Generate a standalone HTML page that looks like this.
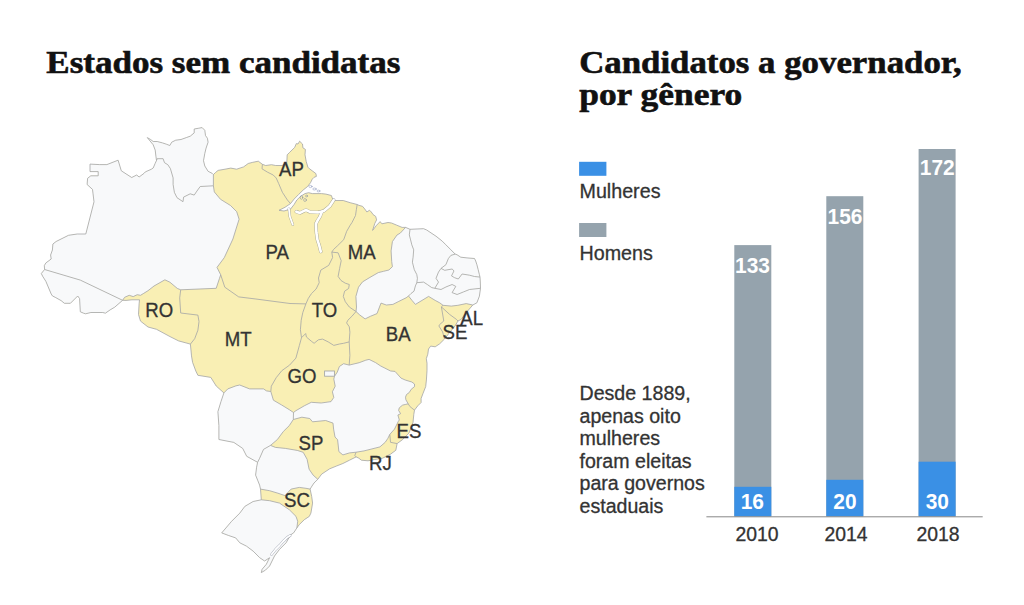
<!DOCTYPE html>
<html><head><meta charset="utf-8"><style>
html,body{margin:0;padding:0;background:#fff;width:1024px;height:605px;overflow:hidden}
</style></head><body>
<svg style="position:absolute;left:0;top:0" width="1024" height="605" viewBox="0 0 1024 605">
<g font-family="Liberation Serif" font-weight="bold" font-size="31.5" fill="#111" stroke="#111" stroke-width="0.6">
<text transform="translate(46.3,73.2) scale(1.112,1)">Estados sem candidatas</text>
<text transform="translate(579.2,73.1) scale(1.105,1)">Candidatos a governador,</text>
<text transform="translate(579.2,105) scale(1.125,1)">por gênero</text>
</g>
<polygon points="44.6,269.5 44.3,265.6 45.9,262.9 51.2,259.0 50.6,255.0 52.4,250.0 52.9,244.0 56.1,241.5 68.5,235.3 77.2,234.0 85.8,234.0 94.0,201.8 92.5,189.4 87.1,184.5 87.6,178.3 90.8,175.8 98.2,175.8 98.2,171.6 90.0,171.6 90.0,164.1 99.5,164.6 106.9,164.6 118.1,160.2 121.3,170.8 131.7,177.5 136.7,175.0 139.1,177.0 144.1,173.3 145.3,171.9 151.2,169.3 153.2,168.0 155.2,163.3 156.5,160.5 155.9,156.1 155.2,150.1 153.2,144.8 147.3,137.6 150.6,139.5 153.2,141.5 157.2,141.5 162.5,142.9 166.4,144.2 169.8,145.5 171.7,142.2 175.7,140.2 181.0,139.5 186.3,137.6 190.2,136.2 194.2,132.9 194.2,129.0 198.2,128.3 202.1,127.6 204.8,130.3 205.5,135.6 207.4,138.2 208.1,142.2 206.1,148.1 204.8,153.4 203.5,160.7 204.8,166.0 208.1,171.3 212.1,173.3 213.4,174.6 215.5,172.5 218.1,170.4 225.0,169.2 230.8,168.1 236.6,169.2 243.6,166.9 248.2,163.5 252.8,162.3 258.3,161.2 262.4,164.3 265.7,165.5 271.5,164.7 275.7,165.5 282.3,165.5 286.8,162.6 287.2,154.8 289.7,152.3 294.7,147.4 296.3,143.6 298.0,144.0 299.6,141.2 302.5,144.0 302.9,147.8 305.4,149.4 305.0,154.8 306.2,161.4 307.9,167.2 309.5,168.8 312.9,171.3 315.9,173.6 316.4,176.4 314.1,177.3 312.3,179.1 310.5,182.7 307.7,186.4 303.2,190.0 298.6,194.5 294.1,199.1 290.5,203.6 285.0,207.3 279.0,210.3 284.0,211.0 290.5,209.1 294.1,204.5 296.8,200.0 300.5,196.4 305.0,193.6 308.6,192.7 312.3,193.6 321.4,193.6 325.9,194.1 331.4,195.5 332.3,198.2 333.7,200.0 335.3,200.5 343.2,200.5 350.2,202.7 357.2,204.5 359.0,205.4 362.5,206.3 364.7,208.9 366.9,212.0 369.5,210.2 371.3,212.0 373.1,214.6 375.7,216.4 376.6,219.9 374.8,223.4 372.6,230.4 376.6,225.2 380.1,221.6 381.9,223.8 388.0,222.5 391.5,223.0 396.8,225.2 402.1,227.4 405.6,227.4 410.0,229.3 423.6,228.7 426.7,230.0 436.0,236.2 442.2,241.1 445.9,244.8 450.9,249.8 455.2,254.1 457.1,254.8 460.8,257.2 467.0,257.9 474.5,258.5 475.7,261.0 476.9,264.7 478.2,269.7 479.4,274.6 480.0,277.1 480.3,282.0 480.5,288.3 479.4,296.2 476.9,302.8 472.8,305.0 466.2,312.7 461.2,319.3 458.0,321.0 455.0,326.0 450.1,331.9 444.5,339.0 439.7,343.8 435.2,346.8 430.7,346.1 428.5,349.0 427.8,354.2 426.3,358.7 427.0,363.2 427.0,370.6 426.4,380.0 425.7,386.6 423.1,393.2 421.1,398.5 421.1,402.5 417.8,405.8 414.5,410.1 413.8,414.4 413.0,422.5 409.0,433.1 402.4,439.7 397.1,443.6 395.8,450.3 390.5,454.2 382.6,458.2 374.6,459.5 368.0,460.8 361.4,460.2 358.8,458.2 356.1,456.9 349.5,460.2 342.9,463.5 336.3,466.1 329.7,468.8 321.7,474.1 317.8,479.3 314.0,483.0 312.0,486.0 310.1,489.1 311.7,496.5 312.6,503.1 310.9,513.1 309.3,516.4 304.3,519.7 299.3,524.6 296.9,527.9 293.6,532.9 291.1,534.5 289.4,537.0 286.1,542.8 279.5,549.4 274.5,556.0 269.6,566.0 265.5,570.1 261.3,572.6 262.1,569.3 266.3,564.3 269.6,557.7 264.6,561.0 259.7,557.7 253.1,551.1 246.4,546.1 239.8,542.8 235.7,537.9 228.3,535.4 221.7,532.9 231.6,521.3 239.8,513.1 244.8,506.4 253.1,501.5 261.3,499.8 260.5,489.1 259.6,485.1 257.6,480.1 255.6,475.1 256.6,467.2 257.6,462.3 246.7,456.3 242.7,448.4 233.8,442.4 218.9,439.5 218.9,425.6 217.9,411.7 220.9,401.8 223.9,392.9 216.2,386.0 210.8,377.4 197.9,375.3 195.8,371.0 192.6,362.4 191.5,355.9 190.4,344.1 178.6,340.9 170.0,336.6 156.5,329.3 148.0,327.0 140.5,321.1 138.5,314.5 139.1,303.9 139.5,299.8 132.0,299.8 126.0,300.4 122.6,300.3 114.7,307.2 110.1,309.9 105.4,313.2 102.8,312.5 90.9,312.5 85.6,313.8 83.6,313.2 80.3,311.8 79.6,298.6 77.7,296.0 70.4,303.3 64.4,303.3 61.1,300.6 55.2,297.3 52.5,296.0 51.2,294.0 45.9,281.4 42.6,276.2 41.3,273.5 44.6,269.5" fill="#f9efb4"/>
<polygon points="156.5,160.5 157.2,158.7 163.1,158.7 164.5,162.7 167.8,164.7 170.4,168.6 173.1,177.9 173.1,184.5 174.4,192.4 177.0,197.7 183.0,201.7 183.6,197.1 190.2,193.8 194.2,195.1 196.9,191.1 200.2,186.5 213.4,185.8 214.3,191.9 220.5,199.3 230.5,205.5 236.7,211.7 239.1,219.2 232.9,239.0 224.3,257.6 217.0,267.4 220.7,274.8 219.4,278.6 216.2,288.3 180.7,289.8 177.3,288.4 169.9,282.2 164.9,279.8 154.0,286.0 148.0,290.7 143.8,293.3 140.5,295.3 137.2,294.7 133.2,296.6 129.2,295.3 124.6,297.3 122.6,300.3 80.3,280.1 44.6,269.5 44.3,265.6 45.9,262.9 51.2,259.0 50.6,255.0 52.4,250.0 52.9,244.0 56.1,241.5 68.5,235.3 77.2,234.0 85.8,234.0 94.0,201.8 92.5,189.4 87.1,184.5 87.6,178.3 90.8,175.8 98.2,175.8 98.2,171.6 90.0,171.6 90.0,164.1 99.5,164.6 106.9,164.6 118.1,160.2 121.3,170.8 131.7,177.5 136.7,175.0 139.1,177.0 144.1,173.3 145.3,171.9 151.2,169.3 153.2,168.0 155.2,163.3 156.5,160.5" fill="#f8f9fa"/>
<polygon points="156.5,160.5 155.9,156.1 155.2,150.1 153.2,144.8 147.3,137.6 150.6,139.5 153.2,141.5 157.2,141.5 162.5,142.9 166.4,144.2 169.8,145.5 171.7,142.2 175.7,140.2 181.0,139.5 186.3,137.6 190.2,136.2 194.2,132.9 194.2,129.0 198.2,128.3 202.1,127.6 204.8,130.3 205.5,135.6 207.4,138.2 208.1,142.2 206.1,148.1 204.8,153.4 203.5,160.7 204.8,166.0 208.1,171.3 212.1,173.3 213.4,174.6 213.4,185.8 200.2,186.5 196.9,191.1 194.2,195.1 190.2,193.8 183.6,197.1 183.0,201.7 177.0,197.7 174.4,192.4 173.1,184.5 173.1,177.9 170.4,168.6 167.8,164.7 164.5,162.7 163.1,158.7 157.2,158.7 156.5,160.5" fill="#f8f9fa"/>
<polygon points="122.6,300.3 114.7,307.2 110.1,309.9 105.4,313.2 102.8,312.5 90.9,312.5 85.6,313.8 83.6,313.2 80.3,311.8 79.6,298.6 77.7,296.0 70.4,303.3 64.4,303.3 61.1,300.6 55.2,297.3 52.5,296.0 51.2,294.0 45.9,281.4 42.6,276.2 41.3,273.5 44.6,269.5 80.3,280.1 122.6,300.3" fill="#f8f9fa"/>
<polygon points="405.6,227.4 410.0,229.3 409.3,234.9 410.6,239.9 411.8,244.8 413.7,249.8 413.1,257.2 412.4,262.2 414.3,269.7 416.8,274.6 417.4,278.3 416.8,282.7 415.4,285.9 414.0,291.2 411.0,293.5 408.5,296.0 406.1,297.8 398.2,301.7 392.9,304.4 386.3,305.0 381.0,303.1 377.0,313.6 370.4,316.3 365.1,318.9 359.8,315.0 356.0,311.5 356.5,307.0 355.9,296.4 358.5,287.2 362.5,281.9 369.1,277.9 378.3,272.6 383.6,271.3 388.9,270.0 392.4,266.7 391.7,261.4 391.1,250.9 392.4,241.6 397.0,235.0 400.3,233.1 405.6,227.4" fill="#f8f9fa"/>
<polygon points="410.0,229.3 423.6,228.7 426.7,230.0 436.0,236.2 442.2,241.1 445.9,244.8 450.9,249.8 455.2,254.1 450.9,255.4 448.4,258.5 445.9,264.7 441.0,268.4 438.5,272.1 436.0,278.3 438.5,282.1 434.8,288.3 431.7,287.6 427.3,284.5 423.6,282.1 416.8,282.7 417.4,278.3 416.8,274.6 414.3,269.7 412.4,262.2 413.1,257.2 413.7,249.8 411.8,244.8 410.6,239.9 409.3,234.9 410.0,229.3" fill="#f8f9fa"/>
<polygon points="455.2,254.1 457.1,254.8 460.8,257.2 467.0,257.9 474.5,258.5 475.7,261.0 476.9,264.7 478.2,269.7 479.4,274.6 480.0,277.1 474.5,276.5 469.5,275.2 462.1,274.0 458.3,279.0 454.6,277.7 451.5,275.9 454.0,270.9 452.1,269.0 444.7,270.3 441.0,268.4 445.9,264.7 448.4,258.5 450.9,255.4 455.2,254.1" fill="#f8f9fa"/>
<polygon points="441.0,268.4 444.7,270.3 452.1,269.0 454.0,270.9 451.5,275.9 454.6,277.7 458.3,279.0 462.1,274.0 469.5,275.2 474.5,276.5 480.0,277.1 480.3,282.0 480.5,288.3 469.5,289.5 463.3,292.0 457.1,294.5 452.1,292.6 455.8,286.4 452.1,284.5 445.9,287.0 441.0,289.5 434.8,288.3 438.5,282.1 436.0,278.3 438.5,272.1 441.0,268.4" fill="#f8f9fa"/>
<polygon points="416.8,282.7 423.6,282.1 427.3,284.5 431.7,287.6 434.8,288.3 441.0,289.5 445.9,287.0 452.1,284.5 455.8,286.4 452.1,292.6 457.1,294.5 463.3,292.0 469.5,289.5 480.5,288.3 479.4,296.2 476.9,302.8 472.8,305.0 466.2,303.6 457.9,305.3 451.3,306.1 443.0,305.3 439.7,302.8 435.2,300.4 428.6,296.4 422.0,300.4 415.4,304.4 412.0,300.4 408.5,296.0 411.0,293.5 414.0,291.2 415.4,285.9 416.8,282.7" fill="#f8f9fa"/>
<polygon points="270.8,391.5 273.4,400.2 281.8,405.1 289.3,409.7 293.5,412.5 293.3,419.5 289.3,425.6 283.3,431.5 277.4,439.5 270.5,445.4 263.5,449.4 259.6,458.3 257.6,462.3 246.7,456.3 242.7,448.4 233.8,442.4 218.9,439.5 218.9,425.6 217.9,411.7 220.9,401.8 223.9,392.9 227.8,388.9 235.8,385.9 239.7,385.0 249.6,388.9 263.5,388.9 266.5,390.9 270.8,391.5" fill="#f8f9fa"/>
<polygon points="349.2,365.1 359.2,362.7 365.8,360.2 369.1,359.4 375.7,362.7 380.7,366.0 390.6,371.0 395.0,371.4 401.0,378.1 405.2,380.0 411.8,382.0 414.5,384.0 414.5,386.6 411.2,389.3 409.2,392.6 406.5,394.5 405.5,397.2 405.9,399.8 408.2,403.8 405.2,404.5 402.6,405.1 399.3,407.8 398.6,410.4 400.6,413.7 397.9,415.0 399.3,420.0 398.4,421.2 394.5,429.1 389.8,434.4 387.9,438.3 385.2,442.3 379.9,446.9 372.0,448.9 364.0,450.9 356.1,452.2 349.5,452.9 342.9,454.9 338.9,451.6 337.6,439.7 335.0,437.0 333.6,429.1 333.0,423.1 325.7,420.5 312.5,421.8 309.8,418.5 301.9,417.2 293.3,419.5 293.5,412.5 295.9,410.7 304.3,405.8 311.3,402.3 321.2,403.0 331.0,401.6 333.8,397.4 332.4,391.8 335.2,386.2 333.8,379.1 334.5,376.3 337.3,372.1 339.4,366.5 343.6,363.7 349.2,365.1" fill="#f8f9fa"/>
<polygon points="270.5,445.4 275.4,447.4 285.3,448.4 297.2,450.4 303.2,452.3 307.1,459.3 309.1,469.2 313.1,475.1 317.8,479.3 314.0,483.0 312.0,486.0 310.1,489.1 306.0,488.3 299.3,487.4 291.1,489.1 288.6,491.6 285.3,495.7 277.9,493.2 269.6,490.7 260.5,489.1 259.6,485.1 257.6,480.1 255.6,475.1 256.6,467.2 257.6,462.3 259.6,458.3 263.5,449.4 270.5,445.4" fill="#f8f9fa"/>
<polygon points="296.9,527.9 293.6,532.9 291.1,534.5 289.4,537.0 286.1,542.8 279.5,549.4 274.5,556.0 269.6,566.0 265.5,570.1 261.3,572.6 262.1,569.3 266.3,564.3 269.6,557.7 264.6,561.0 259.7,557.7 253.1,551.1 246.4,546.1 239.8,542.8 235.7,537.9 228.3,535.4 221.7,532.9 231.6,521.3 239.8,513.1 244.8,506.4 253.1,501.5 261.3,499.8 269.6,500.7 279.5,503.1 289.4,509.8 296.0,516.4 297.7,521.3 296.9,527.9" fill="#f8f9fa"/>
<path d="M156.5,160.5 L157.2,158.7 L163.1,158.7 L164.5,162.7 L167.8,164.7 L170.4,168.6 L173.1,177.9 L173.1,184.5 L174.4,192.4 L177.0,197.7 L183.0,201.7 L183.6,197.1 L190.2,193.8 L194.2,195.1 L196.9,191.1 L200.2,186.5 L213.4,185.8 M213.4,174.6 L213.4,185.8 M213.4,185.8 L214.3,191.9 L220.5,199.3 L230.5,205.5 L236.7,211.7 L239.1,219.2 L232.9,239.0 L224.3,257.6 L217.0,267.4 L220.7,274.8 M220.7,274.8 L219.4,278.6 L216.2,288.3 L180.7,289.8 M180.7,289.8 L177.3,288.4 L169.9,282.2 L164.9,279.8 L154.0,286.0 L148.0,290.7 L143.8,293.3 L140.5,295.3 L137.2,294.7 L133.2,296.6 L129.2,295.3 L124.6,297.3 L122.6,300.3 M44.6,269.5 L80.3,280.1 L122.6,300.3 M180.7,289.8 L179.7,297.9 L180.7,313.0 L197.9,315.1 L199.0,321.6 L197.9,330.2 L194.7,338.7 L190.4,344.1 M220.7,274.8 L224.8,287.2 L238.7,296.9 L255.9,299.0 L280.0,302.2 L290.0,303.5 L305.9,303.9 M305.9,303.9 L308.3,298.4 L311.4,293.7 L316.1,289.0 L319.2,282.7 L318.5,278.0 L320.8,270.1 L328.7,265.4 L332.6,257.6 L331.8,252.1 M357.2,204.5 L356.4,209.3 L355.5,215.5 L352.0,222.5 L350.2,225.2 L346.7,231.3 L343.7,239.7 L337.7,245.6 L333.5,249.5 L331.8,252.1 M262.4,164.3 L262.0,168.8 L267.4,172.1 L273.2,175.0 L276.2,178.0 L278.7,183.6 L282.4,192.3 L287.4,200.0 L290.5,203.6 M331.8,252.1 L338.1,252.8 L341.2,260.7 L339.6,268.5 L338.1,276.4 L341.0,280.5 L345.3,283.2 L349.3,284.5 L348.6,288.5 L344.6,291.2 L343.3,296.4 L345.3,301.7 L349.3,307.0 L356.0,311.5 M405.6,227.4 L400.3,233.1 L397.0,235.0 L392.4,241.6 L391.1,250.9 L391.7,261.4 L392.4,266.7 L388.9,270.0 L383.6,271.3 L378.3,272.6 L369.1,277.9 L362.5,281.9 L358.5,287.2 L355.9,296.4 L356.5,307.0 L356.0,311.5 M356.0,311.5 L359.8,315.0 L365.1,318.9 L370.4,316.3 L377.0,313.6 L381.0,303.1 L386.3,305.0 L392.9,304.4 L398.2,301.7 L406.1,297.8 L408.5,296.0 M356.0,311.5 L351.9,316.3 L347.9,320.2 L346.6,322.9 L349.3,326.8 L349.9,332.1 L349.2,341.9 M410.0,229.3 L409.3,234.9 L410.6,239.9 L411.8,244.8 L413.7,249.8 L413.1,257.2 L412.4,262.2 L414.3,269.7 L416.8,274.6 L417.4,278.3 L416.8,282.7 M416.8,282.7 L415.4,285.9 L414.0,291.2 L411.0,293.5 L408.5,296.0 M408.5,296.0 L412.0,300.4 L415.4,304.4 L422.0,300.4 L428.6,296.4 L435.2,300.4 L439.7,302.8 L443.0,305.3 M443.0,305.3 L451.3,306.1 L457.9,305.3 L466.2,303.6 L472.8,305.0 M443.0,305.3 L441.4,306.9 M441.4,306.9 L449.6,314.4 L456.3,319.3 L458.0,321.0 M441.4,306.9 L443.8,321.0 L439.7,324.5 L438.9,326.0 L442.6,331.9 L444.5,339.0 M455.2,254.1 L450.9,255.4 L448.4,258.5 L445.9,264.7 L441.0,268.4 M441.0,268.4 L444.7,270.3 L452.1,269.0 L454.0,270.9 L451.5,275.9 L454.6,277.7 L458.3,279.0 L462.1,274.0 L469.5,275.2 L474.5,276.5 L480.0,277.1 M441.0,268.4 L438.5,272.1 L436.0,278.3 L438.5,282.1 L434.8,288.3 M416.8,282.7 L423.6,282.1 L427.3,284.5 L431.7,287.6 L434.8,288.3 M434.8,288.3 L441.0,289.5 L445.9,287.0 L452.1,284.5 L455.8,286.4 L452.1,292.6 L457.1,294.5 L463.3,292.0 L469.5,289.5 L480.5,288.3 M305.9,303.9 L302.8,312.5 L301.2,320.3 L300.4,329.8 L301.5,337.7 M301.5,337.7 L299.4,345.4 L295.9,358.1 L289.6,365.1 L281.8,370.7 L276.2,377.7 L271.3,386.2 L270.8,391.5 M270.8,391.5 L266.5,390.9 L263.5,388.9 L249.6,388.9 L239.7,385.0 L235.8,385.9 L227.8,388.9 L223.9,392.9 M301.5,337.7 L305.7,333.5 L306.4,337.0 L311.3,341.2 L314.1,343.3 L318.4,339.8 L322.6,339.1 L328.2,341.9 L333.8,345.4 L339.4,344.0 L343.6,343.3 L349.2,341.9 M349.2,341.9 L349.9,355.3 L349.2,365.1 M349.2,365.1 L359.2,362.7 L365.8,360.2 L369.1,359.4 L375.7,362.7 L380.7,366.0 L390.6,371.0 L395.0,371.4 L401.0,378.1 L405.2,380.0 L411.8,382.0 L414.5,384.0 L414.5,386.6 L411.2,389.3 L409.2,392.6 L406.5,394.5 L405.5,397.2 L405.9,399.8 L408.2,403.8 M408.2,403.8 L409.8,406.4 L413.1,409.1 L414.5,410.1 M349.2,365.1 L343.6,363.7 L339.4,366.5 L337.3,372.1 L334.5,376.3 L333.8,379.1 L335.2,386.2 L332.4,391.8 L333.8,397.4 L331.0,401.6 L321.2,403.0 L311.3,402.3 L304.3,405.8 L295.9,410.7 L293.5,412.5 M270.8,391.5 L273.4,400.2 L281.8,405.1 L289.3,409.7 L293.5,412.5 M293.5,412.5 L293.3,419.5 M293.3,419.5 L289.3,425.6 L283.3,431.5 L277.4,439.5 L270.5,445.4 M270.5,445.4 L263.5,449.4 L259.6,458.3 L257.6,462.3 M293.3,419.5 L301.9,417.2 L309.8,418.5 L312.5,421.8 L325.7,420.5 L333.0,423.1 L333.6,429.1 L335.0,437.0 L337.6,439.7 L338.9,451.6 L342.9,454.9 L349.5,452.9 L356.1,452.2 M356.1,452.2 L364.0,450.9 L372.0,448.9 L379.9,446.9 L385.2,442.3 L387.9,438.3 L389.8,434.4 M408.2,403.8 L405.2,404.5 L402.6,405.1 L399.3,407.8 L398.6,410.4 L400.6,413.7 L397.9,415.0 L399.3,420.0 L398.4,421.2 L394.5,429.1 L389.8,434.4 M389.8,434.4 L390.5,442.3 L397.1,443.6 M356.1,452.2 L354.8,455.5 L356.1,456.9 M270.5,445.4 L275.4,447.4 L285.3,448.4 L297.2,450.4 L303.2,452.3 L307.1,459.3 L309.1,469.2 L313.1,475.1 L317.8,479.3 M260.5,489.1 L269.6,490.7 L277.9,493.2 L285.3,495.7 L288.6,491.6 L291.1,489.1 L299.3,487.4 L306.0,488.3 L310.1,489.1 M261.3,499.8 L269.6,500.7 L279.5,503.1 L289.4,509.8 L296.0,516.4 L297.7,521.3 L296.9,527.9" fill="none" stroke="#a3a5a6" stroke-width="0.8" stroke-linejoin="round"/>
<polygon points="44.6,269.5 44.3,265.6 45.9,262.9 51.2,259.0 50.6,255.0 52.4,250.0 52.9,244.0 56.1,241.5 68.5,235.3 77.2,234.0 85.8,234.0 94.0,201.8 92.5,189.4 87.1,184.5 87.6,178.3 90.8,175.8 98.2,175.8 98.2,171.6 90.0,171.6 90.0,164.1 99.5,164.6 106.9,164.6 118.1,160.2 121.3,170.8 131.7,177.5 136.7,175.0 139.1,177.0 144.1,173.3 145.3,171.9 151.2,169.3 153.2,168.0 155.2,163.3 156.5,160.5 155.9,156.1 155.2,150.1 153.2,144.8 147.3,137.6 150.6,139.5 153.2,141.5 157.2,141.5 162.5,142.9 166.4,144.2 169.8,145.5 171.7,142.2 175.7,140.2 181.0,139.5 186.3,137.6 190.2,136.2 194.2,132.9 194.2,129.0 198.2,128.3 202.1,127.6 204.8,130.3 205.5,135.6 207.4,138.2 208.1,142.2 206.1,148.1 204.8,153.4 203.5,160.7 204.8,166.0 208.1,171.3 212.1,173.3 213.4,174.6 215.5,172.5 218.1,170.4 225.0,169.2 230.8,168.1 236.6,169.2 243.6,166.9 248.2,163.5 252.8,162.3 258.3,161.2 262.4,164.3 265.7,165.5 271.5,164.7 275.7,165.5 282.3,165.5 286.8,162.6 287.2,154.8 289.7,152.3 294.7,147.4 296.3,143.6 298.0,144.0 299.6,141.2 302.5,144.0 302.9,147.8 305.4,149.4 305.0,154.8 306.2,161.4 307.9,167.2 309.5,168.8 312.9,171.3 315.9,173.6 316.4,176.4 314.1,177.3 312.3,179.1 310.5,182.7 307.7,186.4 303.2,190.0 298.6,194.5 294.1,199.1 290.5,203.6 285.0,207.3 279.0,210.3 284.0,211.0 290.5,209.1 294.1,204.5 296.8,200.0 300.5,196.4 305.0,193.6 308.6,192.7 312.3,193.6 321.4,193.6 325.9,194.1 331.4,195.5 332.3,198.2 333.7,200.0 335.3,200.5 343.2,200.5 350.2,202.7 357.2,204.5 359.0,205.4 362.5,206.3 364.7,208.9 366.9,212.0 369.5,210.2 371.3,212.0 373.1,214.6 375.7,216.4 376.6,219.9 374.8,223.4 372.6,230.4 376.6,225.2 380.1,221.6 381.9,223.8 388.0,222.5 391.5,223.0 396.8,225.2 402.1,227.4 405.6,227.4 410.0,229.3 423.6,228.7 426.7,230.0 436.0,236.2 442.2,241.1 445.9,244.8 450.9,249.8 455.2,254.1 457.1,254.8 460.8,257.2 467.0,257.9 474.5,258.5 475.7,261.0 476.9,264.7 478.2,269.7 479.4,274.6 480.0,277.1 480.3,282.0 480.5,288.3 479.4,296.2 476.9,302.8 472.8,305.0 466.2,312.7 461.2,319.3 458.0,321.0 455.0,326.0 450.1,331.9 444.5,339.0 439.7,343.8 435.2,346.8 430.7,346.1 428.5,349.0 427.8,354.2 426.3,358.7 427.0,363.2 427.0,370.6 426.4,380.0 425.7,386.6 423.1,393.2 421.1,398.5 421.1,402.5 417.8,405.8 414.5,410.1 413.8,414.4 413.0,422.5 409.0,433.1 402.4,439.7 397.1,443.6 395.8,450.3 390.5,454.2 382.6,458.2 374.6,459.5 368.0,460.8 361.4,460.2 358.8,458.2 356.1,456.9 349.5,460.2 342.9,463.5 336.3,466.1 329.7,468.8 321.7,474.1 317.8,479.3 314.0,483.0 312.0,486.0 310.1,489.1 311.7,496.5 312.6,503.1 310.9,513.1 309.3,516.4 304.3,519.7 299.3,524.6 296.9,527.9 293.6,532.9 291.1,534.5 289.4,537.0 286.1,542.8 279.5,549.4 274.5,556.0 269.6,566.0 265.5,570.1 261.3,572.6 262.1,569.3 266.3,564.3 269.6,557.7 264.6,561.0 259.7,557.7 253.1,551.1 246.4,546.1 239.8,542.8 235.7,537.9 228.3,535.4 221.7,532.9 231.6,521.3 239.8,513.1 244.8,506.4 253.1,501.5 261.3,499.8 260.5,489.1 259.6,485.1 257.6,480.1 255.6,475.1 256.6,467.2 257.6,462.3 246.7,456.3 242.7,448.4 233.8,442.4 218.9,439.5 218.9,425.6 217.9,411.7 220.9,401.8 223.9,392.9 216.2,386.0 210.8,377.4 197.9,375.3 195.8,371.0 192.6,362.4 191.5,355.9 190.4,344.1 178.6,340.9 170.0,336.6 156.5,329.3 148.0,327.0 140.5,321.1 138.5,314.5 139.1,303.9 139.5,299.8 132.0,299.8 126.0,300.4 122.6,300.3 114.7,307.2 110.1,309.9 105.4,313.2 102.8,312.5 90.9,312.5 85.6,313.8 83.6,313.2 80.3,311.8 79.6,298.6 77.7,296.0 70.4,303.3 64.4,303.3 61.1,300.6 55.2,297.3 52.5,296.0 51.2,294.0 45.9,281.4 42.6,276.2 41.3,273.5 44.6,269.5" fill="none" stroke="#a3a5a6" stroke-width="0.8" stroke-linejoin="round"/>
<g fill="none" stroke-linecap="round" stroke-linejoin="round">
<g stroke="rgba(60,70,100,0.45)">
<polyline stroke-width="2.6" points="288.9,208.7 289.9,216.6 292.8,224.6"/>
<polyline stroke-width="3.4" points="296.3,211.7 300,212.9 306,209.9 309.9,211.9 317.9,212.4 323.8,210.9 329.8,206 333.7,200"/>
<polyline stroke-width="3.4" points="321.8,211.9 319.8,216.9 317.4,220.8 315.9,223.8 316.4,232.7 317.4,239.7 319.3,245.6 320.8,251.6"/>
<polyline stroke-width="2.6" points="271.5,554.5 275.5,549.5 279.5,545.5 283,541.5 287.5,537.2 290.2,535.6"/>
</g>
<g stroke="#fff">
<polyline stroke-width="1.8" points="288.9,208.7 289.9,216.6 292.8,224.6"/>
<polyline stroke-width="2.6" points="296.3,211.7 300,212.9 306,209.9 309.9,211.9 317.9,212.4 323.8,210.9 329.8,206 333.7,200"/>
<polyline stroke-width="2.6" points="321.8,211.9 319.8,216.9 317.4,220.8 315.9,223.8 316.4,232.7 317.4,239.7 319.3,245.6 320.8,251.6"/>
<polyline stroke-width="1.8" points="271.5,554.5 275.5,549.5 279.5,545.5 283,541.5 287.5,537.2 290.2,535.6"/>
</g>
<g stroke="rgba(70,90,150,0.45)" stroke-width="0.7">
<ellipse cx="310.5" cy="186.5" rx="1.6" ry="1.1"/><ellipse cx="314.5" cy="189" rx="1.8" ry="1"/><ellipse cx="318.5" cy="191" rx="1.5" ry="0.9"/>
<ellipse cx="301.5" cy="197.5" rx="1.3" ry="1.8"/><ellipse cx="305" cy="200" rx="1.4" ry="1.5"/><ellipse cx="306.5" cy="196" rx="1" ry="0.9"/>
</g></g>
<rect x="324.6" y="371" width="9.8" height="5.2" fill="#f8f9fa" stroke="#a3a5a6" stroke-width="0.85"/>
<g font-family="Liberation Sans" font-size="19.6" fill="#333" stroke="#333" stroke-width="0.3" text-anchor="middle">
<text transform="translate(291.4,176.0) scale(0.95,1)">AP</text>
<text transform="translate(277.2,258.8) scale(0.95,1)">PA</text>
<text transform="translate(361.7,258.8) scale(0.95,1)">MA</text>
<text transform="translate(159.2,316.8) scale(0.95,1)">RO</text>
<text transform="translate(324.5,316.6) scale(0.95,1)">TO</text>
<text transform="translate(238.1,345.8) scale(0.95,1)">MT</text>
<text transform="translate(398.2,340.5) scale(0.95,1)">BA</text>
<text transform="translate(301.9,383.0) scale(0.95,1)">GO</text>
<text transform="translate(455.0,338.9) scale(0.95,1)">SE</text>
<text transform="translate(471.7,324.5) scale(0.95,1)">AL</text>
<text transform="translate(409.0,438.3) scale(0.95,1)">ES</text>
<text transform="translate(310.9,449.8) scale(0.95,1)">SP</text>
<text transform="translate(380.4,469.6) scale(0.95,1)">RJ</text>
<text transform="translate(297.0,506.8) scale(0.95,1)">SC</text>
</g>
<rect x="579.1" y="161.8" width="27.3" height="14" fill="#3a90e5"/>
<rect x="579.1" y="223" width="27.3" height="14" fill="#95a3ad"/>
<g font-family="Liberation Sans" font-size="19.7" fill="#333" stroke="#333" stroke-width="0.3">
<text x="579.5" y="198.4">Mulheres</text>
<text x="579.5" y="259.5">Homens</text>
</g>
<rect x="734.3" y="245.1" width="37" height="271.3" fill="#95a3ad"/>
<rect x="826.3" y="196.2" width="37" height="320.2" fill="#95a3ad"/>
<rect x="918.6" y="149" width="37" height="367.4" fill="#95a3ad"/>
<rect x="734.3" y="486.8" width="37" height="29.6" fill="#3a90e5"/>
<rect x="826.3" y="479.8" width="37" height="36.6" fill="#3a90e5"/>
<rect x="918.6" y="461.7" width="37" height="54.7" fill="#3a90e5"/>
<line x1="706.4" y1="516.8" x2="982.7" y2="516.8" stroke="#888" stroke-width="1"/>
<g font-family="Liberation Sans" font-size="22.5" font-weight="bold" fill="#fff" text-anchor="middle">
<text transform="translate(752.5,273) scale(0.93,1)">133</text><text transform="translate(845,224.3) scale(0.93,1)">156</text><text transform="translate(937.3,174.5) scale(0.93,1)">172</text>
<text transform="translate(752.3,509.4) scale(0.93,1)">16</text><text transform="translate(845,509.4) scale(0.93,1)">20</text><text transform="translate(937.3,509.4) scale(0.93,1)">30</text>
</g>
<g font-family="Liberation Sans" font-size="19.4" fill="#333" stroke="#333" stroke-width="0.3" text-anchor="middle">
<text x="757" y="541">2010</text><text x="846" y="541">2014</text><text x="938" y="541">2018</text>
</g>
<g font-family="Liberation Sans" font-size="19.6" fill="#333" stroke="#333" stroke-width="0.3">
<text x="579.5" y="399.8">Desde 1889,</text>
<text x="579.5" y="422.5">apenas oito</text>
<text x="579.5" y="445.1">mulheres</text>
<text x="579.5" y="467.8">foram eleitas</text>
<text x="579.5" y="490.4">para governos</text>
<text x="579.5" y="513">estaduais</text>
</g>
</svg>
</body></html>
